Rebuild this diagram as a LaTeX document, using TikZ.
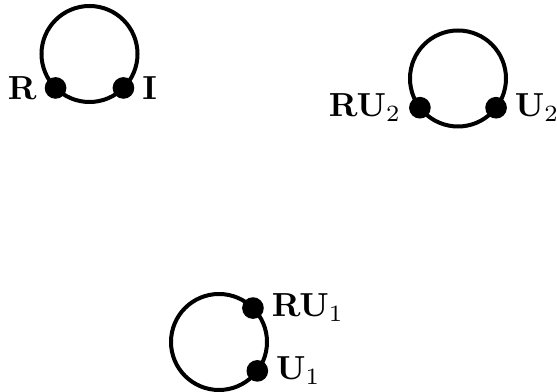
\documentclass[tikz,border=0pt]{standalone}
\begin{document}
\begin{tikzpicture}[x=0.3pt,y=-0.3pt,
  loop/.style={line width=1.2pt},
  vdot/.style={circle,fill=black,inner sep=0pt,minimum size=6.5pt},
  every label/.style={inner sep=2pt}]
\useasboundingbox (0,0) rectangle (557,392);
% centres of the three loops
\coordinate (c1) at (89.5,54);
\coordinate (c2) at (458,78.5);
\coordinate (c3) at (219,342);
\draw[loop] (c1) circle[radius=48];
\draw[loop] (c2) circle[radius=48];
\draw[loop] (c3) circle[radius=48];
% marked points on the loops
\node[vdot,label={left:$\mathbf{R}$}]   (r)   at ([shift={(135:48)}]c1) {};
\node[vdot,label={right:$\mathbf{I}$}]  (i)   at ([shift={(45:48)}]c1) {};
\node[vdot,label={left:$\mathbf{RU}_2$}] (ru2) at ([shift={(142.5:48)}]c2) {};
\node[vdot,label={right:$\mathbf{U}_2$}] (u2)  at ([shift={(37.5:48)}]c2) {};
\node[vdot,label={right:$\mathbf{RU}_1$}] (ru1) at ([shift={(-45:48)}]c3) {};
\node[vdot,label={right:$\mathbf{U}_1$}]  (u1)  at ([shift={(37:48)}]c3) {};
\end{tikzpicture}
\end{document}
